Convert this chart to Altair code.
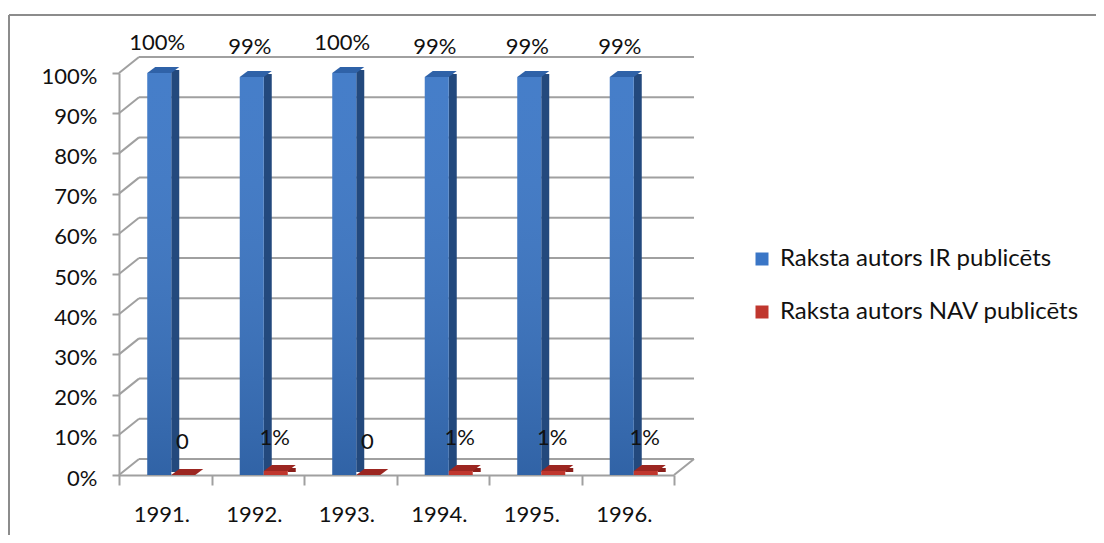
import altair as alt
import pandas as pd

years = ["1991.", "1992.", "1993.", "1994.", "1995.", "1996."]
ir_values = [100, 99, 100, 99, 99, 99]
nav_values = [0, 1, 0, 1, 1, 1]
ir_labels = ["100%", "99%", "100%", "99%", "99%", "99%"]
nav_labels = ["0", "1%", "0", "1%", "1%", "1%"]
series_names = ["Raksta autors IR publicēts", "Raksta autors NAV publicēts"]
y_ticks = [0, 10, 20, 30, 40, 50, 60, 70, 80, 90, 100]

rows = []
for i, yr in enumerate(years):
    rows.append({"year": yr, "series": series_names[0], "value": ir_values[i], "label": ir_labels[i]})
    rows.append({"year": yr, "series": series_names[1], "value": nav_values[i], "label": nav_labels[i]})
df = pd.DataFrame(rows)
ticks_df = pd.DataFrame({"t": y_ticks})

W, H = 555, 402
FONT = "Lato"
GRID = "#a0a0a0"
TEXT = "#111111"
DX, DY = 20, 16  # depth of 3D look

xscale = alt.Scale(domain=years, paddingInner=0, paddingOuter=0)
yscale = alt.Scale(domain=[0, 100], nice=False)

X_AXIS = alt.Axis(title=None, labelAngle=0, labelFontSize=22, labelFont=FONT, labelColor=TEXT,
                  labelPadding=19, labelOffset=-4, tickBand="extent", tickSize=10, tickWidth=2,
                  tickColor=GRID, domainColor=GRID, domainWidth=2, grid=False)
Y_AXIS = alt.Axis(title=None, values=y_ticks, labelExpr="datum.value + '%'", labelFontSize=22,
                  labelFont=FONT, labelColor=TEXT, labelPadding=15, labelOffset=3, tickSize=7,
                  tickWidth=2, tickColor=GRID, domainColor=GRID, domainWidth=2, grid=False)


def XE():
    return alt.X("year:N", scale=xscale, sort=years, axis=X_AXIS)


def YE(field="value"):
    return alt.Y(f"{field}:Q", scale=yscale, axis=Y_AXIS)


COLOR = alt.Color(
    "series:N",
    scale=alt.Scale(domain=series_names, range=["#3a76c6", "#c0372e"]),
    legend=alt.Legend(title=None, orient="none", legendX=631, legendY=174, symbolType="square",
                      symbolSize=169, symbolStrokeWidth=0, labelFontSize=24, labelFont=FONT,
                      labelColor=TEXT, rowPadding=29, labelOffset=6, padding=0, labelLimit=400),
)

# chart frame
frame_top = alt.Chart(ticks_df).mark_rule(color="#8c8c8c", strokeWidth=2).encode(
    x=alt.value(-110), x2=alt.value(1000), y=alt.value(-58))
frame_left = alt.Chart(ticks_df).mark_rule(color="#8c8c8c", strokeWidth=2).encode(
    x=alt.value(-110), y=alt.value(-58), y2=alt.value(700))

# back wall gridlines and left wall diagonals
back_grid = alt.Chart(ticks_df).mark_rule(color=GRID, strokeWidth=2, yOffset=-DY).encode(
    y=YE("t"), x=alt.value(DX), x2=alt.value(W + DX))
diag = alt.Chart(ticks_df).mark_rule(color=GRID, strokeWidth=2, y2Offset=-DY).encode(
    y=YE("t"), y2="t:Q", x=alt.value(0), x2=alt.value(DX))
diag_r = alt.Chart(ticks_df).transform_filter(alt.datum.t == 0).mark_rule(
    color=GRID, strokeWidth=2, y2Offset=-DY).encode(
    y=YE("t"), y2="t:Q", x=alt.value(W), x2=alt.value(W + DX))

TOP_SHAPE = "M -1 0.1875 L 0.5 0.1875 L 1 -0.1875 L -0.5 -0.1875 Z"
SHADE = alt.Gradient(
    gradient="linear", x1=0, y1=0, x2=0, y2=1,
    stops=[alt.GradientStop(offset=0, color="rgba(255,255,255,0.06)"),
           alt.GradientStop(offset=1, color="rgba(0,0,0,0.16)")],
)


def bar_layers(sname, c_off, side, top, shade=False):
    base = alt.Chart(df).transform_filter(alt.datum.series == sname)
    side_l = base.mark_bar(width=8, xOffset=c_off + 16, yOffset=-3, y2Offset=-3, color=side).encode(
        x=XE(), y=YE())
    front_l = base.mark_bar(width=24, xOffset=c_off).encode(x=XE(), y=YE(), color=COLOR)
    top_l = base.mark_point(shape=TOP_SHAPE, size=1024, filled=True, opacity=1, strokeWidth=0,
                            color=top, xOffset=c_off + 4, yOffset=-3).encode(x=XE(), y=YE())
    layers = [side_l, front_l]
    if shade:
        layers.append(base.mark_bar(width=24, xOffset=c_off, color=SHADE).encode(x=XE(), y=YE()))
    layers.append(top_l)
    return layers


blue = bar_layers(series_names[0], -6, "#23497d", "#2f62a8", shade=True)
red = bar_layers(series_names[1], 18, "#8a1f1b", "#9c2621")

lab_ir = alt.Chart(df).transform_filter(alt.datum.series == series_names[0]).mark_text(
    fontSize=22, font=FONT, color=TEXT, dx=-8, dy=-30).encode(x=XE(), y=YE(), text="label:N")
lab_nav = alt.Chart(df).transform_filter(alt.datum.series == series_names[1]).mark_text(
    fontSize=22, font=FONT, color=TEXT, dx=17, dy=-33).encode(x=XE(), y=YE(), text="label:N")

chart = alt.layer(frame_top, frame_left, back_grid, diag, diag_r, *blue, *red, lab_ir, lab_nav).properties(
    width=W, height=H,
    autosize=alt.AutoSizeParams(type="none"),
    padding={"left": 111, "top": 65, "right": 422, "bottom": 60},
).configure_view(stroke=None)

chart.save("out.html", embed_options={"renderer": "svg", "actions": False})
